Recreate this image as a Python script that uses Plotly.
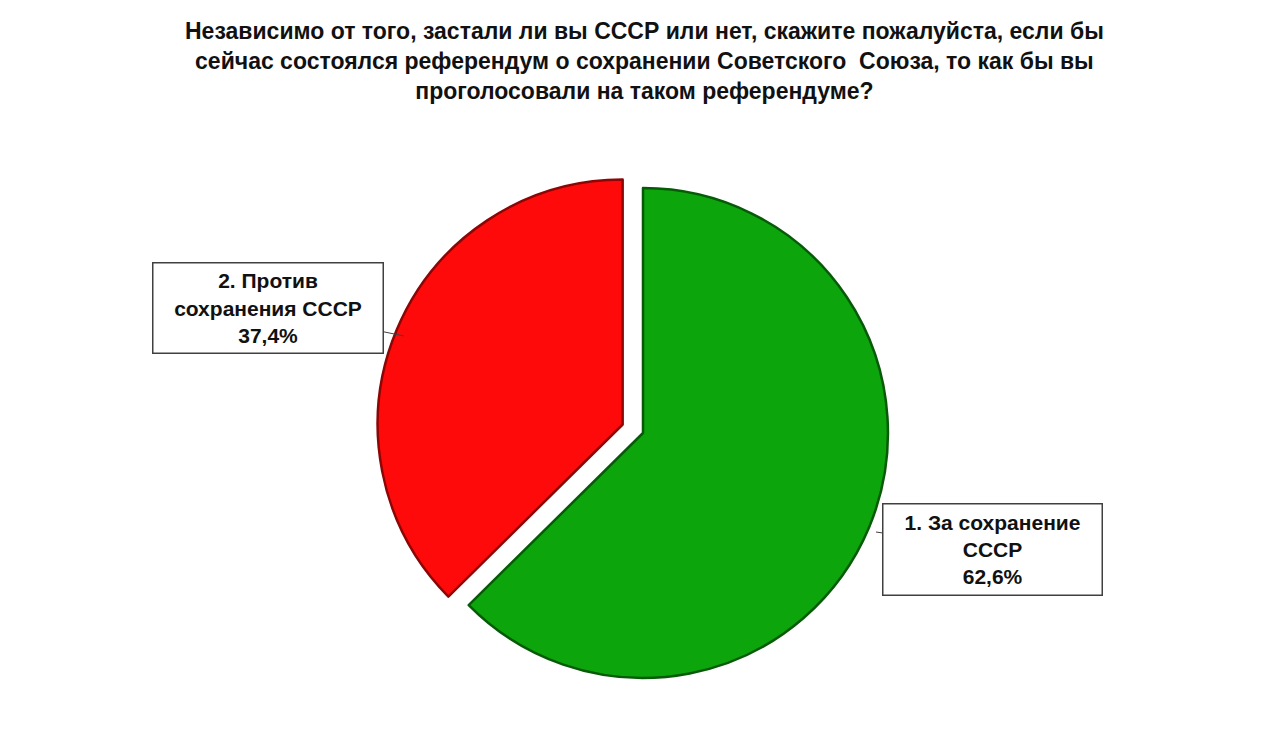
import plotly.graph_objects as go

# survey answers
labels = ["1. За сохранение СССР", "2. Против сохранения СССР"]
values = [62.6, 37.4]
box_text = ["1. За сохранение<br>СССР<br>62,6%", "2. Против<br>сохранения СССР<br>37,4%"]

title_text = ("Независимо от того, застали ли вы СССР или нет, скажите пожалуйста, если бы<br>"
              "сейчас состоялся референдум о сохранении Советского  Союза, то как бы вы<br>"
              "проголосовали на таком референдуме?")

W, H = 1272, 746
FONT = "Liberation Sans, Arial, sans-serif"

pie = go.Pie(
    labels=labels,
    values=values,
    sort=False,
    direction="clockwise",
    rotation=0,
    pull=[0, 0.09],
    textinfo="none",
    hoverinfo="label+percent",
    marker=dict(colors=["#0ca60c", "#ff0a0a"],
                line=dict(color=["#075a07", "#8c0606"], width=2.5)),
    domain=dict(x=[368 / W, 902 / W], y=[1 - 692 / H, 1 - 158 / H]),
    showlegend=False,
)

fig = go.Figure(data=[pie])

# callout boxes: box centre, pointer tip, box text size (all in px)
callouts = [((984, 541), (868, 524), (206, 78)),
            ((260, 300), (396, 328), (217, 77))]

for i, ((bx, by), (tx, ty), (bw, bh)) in enumerate(callouts):
    fig.add_annotation(
        x=tx / W, y=1 - ty / H, xref="paper", yref="paper",
        ax=bx - tx, ay=by - ty, axref="pixel", ayref="pixel",
        text="<b>" + box_text[i] + "</b>",
        showarrow=True, arrowhead=0, arrowwidth=1, arrowcolor="#404040",
        font=dict(family=FONT, size=21, color="#111111"),
        align="center", width=bw, height=bh, valign="middle",
        bgcolor="white", bordercolor="#404040", borderwidth=1.5, borderpad=6,
    )

fig.add_annotation(
    x=0.5, y=1 - 8 / H, xref="paper", yref="paper",
    xanchor="center", yanchor="top", showarrow=False,
    text="<b>" + title_text + "</b>",
    font=dict(family=FONT, size=23, color="#111111"),
    align="center",
)

fig.update_layout(
    width=W, height=H,
    margin=dict(l=0, r=0, t=0, b=0),
    paper_bgcolor="white",
)

fig.write_html("out.html")
